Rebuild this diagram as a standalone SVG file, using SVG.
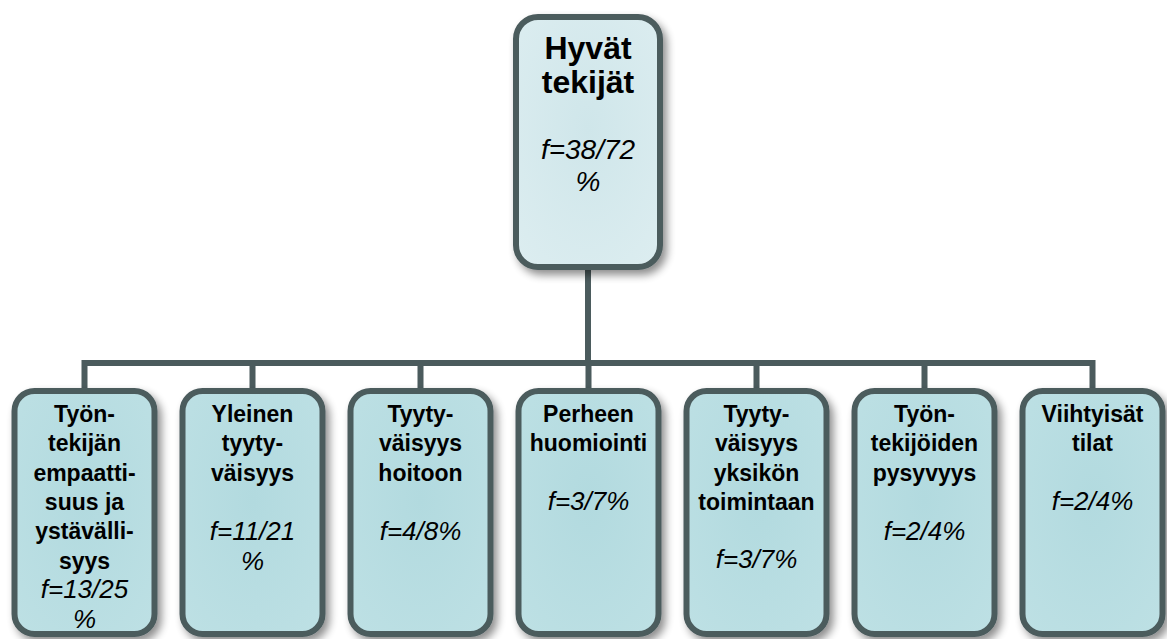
<svg xmlns="http://www.w3.org/2000/svg" width="1167" height="639" viewBox="0 0 1167 639">
<defs>
<filter id="sh" x="-20%" y="-20%" width="150%" height="150%">
<feGaussianBlur in="SourceAlpha" stdDeviation="4"/>
<feOffset dx="4" dy="5" result="b"/>
<feComponentTransfer><feFuncA type="linear" slope="0.45"/></feComponentTransfer>
<feMerge><feMergeNode/><feMergeNode in="SourceGraphic"/></feMerge>
</filter>
<radialGradient id="gTop" cx="0.5" cy="0.45" r="0.7">
<stop offset="0" stop-color="#cfe6ea"/>
<stop offset="1" stop-color="#dcedf0"/>
</radialGradient>
<radialGradient id="gChild" cx="0.5" cy="0.45" r="0.7">
<stop offset="0" stop-color="#b2dadf"/>
<stop offset="1" stop-color="#bde0e4"/>
</radialGradient>
</defs>
<style>
.box{stroke:#4b5b5d;stroke-width:6;filter:url(#sh)}
.top{fill:url(#gTop)}
.child{fill:url(#gChild)}
.conn{fill:none;stroke:#4b5b5d;stroke-width:6;stroke-linejoin:miter}
text{font-family:"Liberation Sans",Arial,Helvetica,sans-serif;fill:#000;text-anchor:middle}
.tb{font-weight:bold;font-size:32px}
.ti{font-style:italic;font-size:28px}
.cb{font-weight:bold;font-size:23px}
.ci{font-style:italic;font-size:26px}
</style>
<rect width="1167" height="639" fill="#ffffff"/>
<g id="connectors">
<path class="conn" d="M588,270 V363 M84.5,391 V363 H1092.5 V391 M252.5,363 V391 M420.5,363 V391 M588.5,363 V391 M756.5,363 V391 M924.5,363 V391"/>
</g>
<g id="node-top">
<rect class="box top" x="516" y="17" width="144" height="250" rx="22"/>
<text class="tb" x="588" y="59">Hyvät</text>
<text class="tb" x="588" y="93">tekijät</text>
<text class="ti" x="588" y="159">f=38/72</text>
<text class="ti" x="588" y="191">%</text>
</g>
<g id="node-1">
<rect class="box child" x="14.5" y="391" width="140" height="243" rx="20"/>
<text class="cb" x="84.5" y="422">Työn-</text>
<text class="cb" x="84.5" y="451.3">tekijän</text>
<text class="cb" x="84.5" y="480.6">empaatti-</text>
<text class="cb" x="84.5" y="509.9">suus ja</text>
<text class="cb" x="84.5" y="539.2">ystävälli-</text>
<text class="cb" x="84.5" y="568.5">syys</text>
<text class="ci" x="84.5" y="598">f=13/25</text>
<text class="ci" x="84.5" y="628">%</text>
</g>
<g id="node-2">
<rect class="box child" x="182.5" y="391" width="140" height="243" rx="20"/>
<text class="cb" x="252.5" y="422">Yleinen</text>
<text class="cb" x="252.5" y="451.3">tyyty-</text>
<text class="cb" x="252.5" y="480.6">väisyys</text>
<text class="ci" x="252.5" y="540">f=11/21</text>
<text class="ci" x="252.5" y="570">%</text>
</g>
<g id="node-3">
<rect class="box child" x="350.5" y="391" width="140" height="243" rx="20"/>
<text class="cb" x="420.5" y="422">Tyyty-</text>
<text class="cb" x="420.5" y="451.3">väisyys</text>
<text class="cb" x="420.5" y="480.6">hoitoon</text>
<text class="ci" x="420.5" y="540">f=4/8%</text>
</g>
<g id="node-4">
<rect class="box child" x="518.5" y="391" width="140" height="243" rx="20"/>
<text class="cb" x="588.5" y="422">Perheen</text>
<text class="cb" x="588.5" y="451.3">huomiointi</text>
<text class="ci" x="588.5" y="510">f=3/7%</text>
</g>
<g id="node-5">
<rect class="box child" x="686.5" y="391" width="140" height="243" rx="20"/>
<text class="cb" x="756.5" y="422">Tyyty-</text>
<text class="cb" x="756.5" y="451.3">väisyys</text>
<text class="cb" x="756.5" y="480.6">yksikön</text>
<text class="cb" x="756.5" y="509.9">toimintaan</text>
<text class="ci" x="756.5" y="568">f=3/7%</text>
</g>
<g id="node-6">
<rect class="box child" x="854.5" y="391" width="140" height="243" rx="20"/>
<text class="cb" x="924.5" y="422">Työn-</text>
<text class="cb" x="924.5" y="451.3">tekijöiden</text>
<text class="cb" x="924.5" y="480.6">pysyvyys</text>
<text class="ci" x="924.5" y="540">f=2/4%</text>
</g>
<g id="node-7">
<rect class="box child" x="1022.5" y="391" width="140" height="243" rx="20"/>
<text class="cb" x="1092.5" y="422">Viihtyisät</text>
<text class="cb" x="1092.5" y="451.3">tilat</text>
<text class="ci" x="1092.5" y="510">f=2/4%</text>
</g>
</svg>
